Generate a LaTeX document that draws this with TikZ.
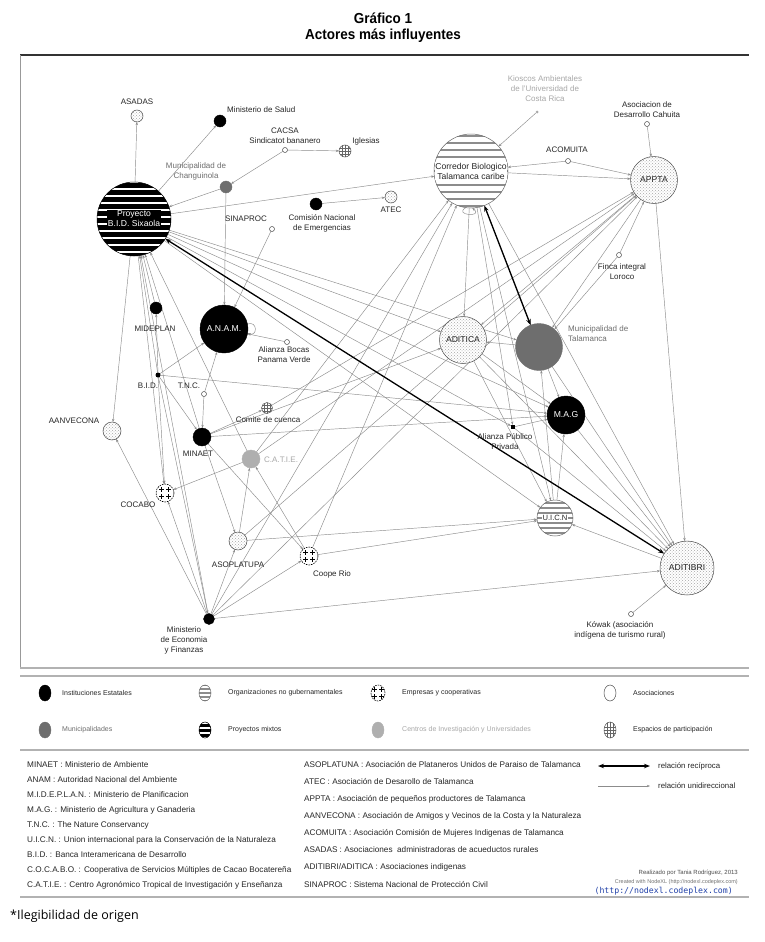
\documentclass[tikz,border=0pt]{standalone}
\usepackage{fontspec}
\setmainfont{Liberation Sans}
\newfontfamily\titlef[FakeStretch=0.93]{Liberation Sans}
\newfontfamily\notef{Open Sans}
\newfontfamily\urlf{DejaVu Sans Mono}
\usetikzlibrary{arrows.meta,patterns,shapes.geometric,backgrounds}
\pgfdeclarelayer{bottom}
\pgfsetlayers{bottom,background,main}
\definecolor{edgeC}{HTML}{8C8C8C}
\definecolor{muniC}{HTML}{6E6E6E}
\definecolor{catieC}{HTML}{AFAFAF}
\definecolor{lgtxt}{HTML}{A8A8A8}
\definecolor{urlC}{HTML}{2040A8}
\tikzset{
 nd/.style={circle,inner sep=0pt,outer sep=0pt,minimum size=#1},
 inst/.style={nd=#1,fill=black,draw=black,line width=0.4pt},
 muni/.style={nd=#1,fill=muniC,draw=muniC},
 centro/.style={nd=#1,fill=catieC,draw=catieC},
 asoc/.style={nd=#1,draw=black!70,line width=0.5pt,preaction={fill=white},pattern=crosshatch dots,pattern color=black!35},
 ong/.style 2 args={nd=#1,draw=black!60,fill=white,line width=0.5pt,
   path picture={\foreach \k in {0,...,20}{\draw[black!45,line width=1.1pt] ([yshift={(\k-10)*#2}]path picture bounding box.west) -- ([yshift={(\k-10)*#2}]path picture bounding box.east);}}},
 mix/.style 2 args={nd=#1,fill=black,draw=black,line width=0.5pt,
   path picture={\foreach \k in {0,...,20}{\draw[white,line width=2.2pt] ([yshift={(\k-10)*#2+2}]path picture bounding box.west) -- ([yshift={(\k-10)*#2+2}]path picture bounding box.east);}}},
 emp/.style={nd=#1,fill=white,draw=black,line width=0.6pt,dash pattern=on 1.6pt off 1pt,
   path picture={\foreach \a/\b in {-1/-1,-1/1,1/-1,1/1}{\draw[black,solid,line width=1.4pt] ([shift={(\a*3.4,\b*3.4)}]path picture bounding box.center) +(-2.2,0) -- +(2.2,0) +(0,-2.2) -- +(0,2.2);}}},
 esp/.style={nd=#1,fill=white,draw=black!70,line width=0.5pt,
   path picture={\foreach \k in {-1,0,1}{\draw[black!60,line width=0.4pt] ([xshift=\k*3pt]path picture bounding box.north) -- ([xshift=\k*3pt]path picture bounding box.south); \draw[black!60,line width=0.4pt] ([yshift=\k*3pt]path picture bounding box.west) -- ([yshift=\k*3pt]path picture bounding box.east);}}},
 tiny/.style={nd=#1,draw=black!70,fill=white,line width=0.5pt},
 dotb/.style={nd=#1,fill=black},
 lgsh/.style={ellipse,minimum width=12,minimum height=16},
 e/.style={draw=edgeC,line width=0.45pt,-{Stealth[length=3.2pt,width=2.4pt]}},
 rr/.style={draw=black,line width=1.3pt,{Stealth[length=6pt,width=4.5pt]}-{Stealth[length=6pt,width=4.5pt]}},
 lbl/.style={font=\fontsize{8}{10}\selectfont,inner sep=0pt,align=center,text=black!85},
 glbl/.style={lbl,text=muniC},
 llbl/.style={lbl,text=lgtxt},
 inl/.style={lbl,font=\fontsize{8.6}{10}\selectfont},
 lgt/.style={font=\fontsize{7}{8}\selectfont,inner sep=0pt,anchor=west,text=black!85},
 abr/.style={font=\fontsize{8.2}{10}\selectfont,inner sep=0pt,anchor=west,text=black!85},
 pnl/.style={draw=black!30,line width=1.3pt}
}
\begin{document}
\begin{tikzpicture}[x=1pt,y=-1pt]
\useasboundingbox (0,0) rectangle (765,942);
\begin{pgfonlayer}{bottom}
\fill[white] (0,0) rectangle (765,942);
\end{pgfonlayer}
% title
\node[font=\titlef\bfseries\fontsize{14.5}{16}\selectfont,inner sep=0pt] (t1) at (383,18) {Gráfico 1};
\node[font=\titlef\bfseries\fontsize{14.5}{16}\selectfont,inner sep=0pt] (t2) at (383,36) {Actores más influyentes};
% panels
\draw[black!80,line width=1.3pt] (20,55) -- (749,55);
\draw[black!40,line width=0.6pt] (20,55) -- (20,668);
\draw[pnl] (20,668) -- (749,668);
\draw[pnl] (20,676) -- (749,676);
\draw[pnl] (20,750) -- (749,750);
\draw[pnl] (20,897) -- (749,897);

% ---------------- nodes
\node[mix={74}{7}] (P) at (134,219) {};
\node[ong={74}{7}] (corredor) at (471,171) {};
\node[asoc=47] (appta) at (654,180) {};
\node[asoc=47] (aditica) at (463,340) {};
\node[muni=47] (munital) at (539,347) {};
\node[inst=38] (mag) at (566,415) {};
\node[ong={36}{5}] (uicn) at (555,518) {};
\node[asoc=54] (aditibri) at (687,568) {};
\node[inst=48] (anam) at (224,329) {};
\node[asoc=12] (asadas) at (137,116) {};
\node[inst=12] (minsalud) at (220,121) {};
\node[tiny=5] (cacsa) at (285,150) {};
\node[esp=12] (iglesias) at (345,151) {};
\node[muni=12] (munich) at (226,187) {};
\node[tiny=5] (sinaproc) at (272,229) {};
\node[inst=12] (cne) at (316,204) {};
\node[asoc=12] (atec) at (391,197) {};
\node[nd=3,fill=lgtxt] (kioscos) at (537,112) {};
\node[tiny=5] (acomuita) at (568,161) {};
\node[tiny=5] (cahuita) at (647,124) {};
\node[tiny=5] (finca) at (619,255) {};
\node[rectangle,inner sep=0pt,minimum size=4,fill=black] (alianza) at (513,427) {};
\node[tiny=5] (kowak) at (631,614) {};
\node[tiny=5] (bocas) at (287,342) {};
\node[inst=12] (mideplan) at (156,308) {};
\node[dotb=5] (bid) at (158,375) {};
\node[tiny=5] (tnc) at (204,394) {};
\node[esp=11] (comite) at (267,408) {};
\node[asoc=18] (aanvecona) at (112,431) {};
\node[inst=18] (minaet) at (202,437) {};
\node[centro=18] (catie) at (251,459) {};
\node[emp=18] (cocabo) at (165,493) {};
\node[asoc=18] (asoplatupa) at (238,541) {};
\node[emp=18] (cooperio) at (309,556) {};
\node[inst=11] (mineco) at (209,619) {};

% texts inside big nodes
\node[inl,text=white,fill=black,inner sep=0.8pt] (Pt) at (P) {Proyecto\\B.I.D. Sixaola};
\node[inl,fill=white,inner sep=0.6pt] (ct) at (corredor) {Corredor Biologico\\Talamanca caribe};
\node[inl] (apt) at (appta) {APPTA};
\node[inl] (adt) at (aditica) {ADITICA};
\node[inl] (abt) at (aditibri) {ADITIBRI};
\node[inl,text=white] (mgt) at (mag) {M.A.G};
\node[inl,text=white] (ant) at (anam) {A.N.A.M.};
\node[inl,fill=white,inner sep=0.6pt,font=\fontsize{7.6}{9}\selectfont] (uit) at (uicn) {U.I.C.N};

% outer labels
\node[lbl] (l1) at (137,102) {ASADAS};
\node[lbl,anchor=west] (l2) at (227,110) {Ministerio de Salud};
\node[lbl] (l3) at (285,135.5) {CACSA\\Sindicatot bananero};
\node[lbl] (l4) at (366,141) {Iglesias};
\node[glbl] (l5) at (196,171.5) {Municipalidad de\\Changuinola};
\node[lbl] (l6) at (246,219) {SINAPROC};
\node[lbl] (l7) at (322,223.5) {Comisión Nacional\\de Emergencias};
\node[lbl] (l8) at (391,210) {ATEC};
\node[llbl] (l9) at (545,89) {Kioscos Ambientales\\de l'Universidad de\\Costa Rica};
\node[lbl] (l10) at (567,150) {ACOMUITA};
\node[lbl] (l11) at (647,110) {Asociacion de\\Desarrollo Cahuita};
\node[lbl] (l12) at (622,272) {Finca integral\\Loroco};
\node[glbl,anchor=west,align=left] (l13) at (568,334) {Municipalidad de\\Talamanca};
\node[lbl] (l14) at (505,442) {Alianza Público\\Privada};
\node[lbl] (l15) at (620,630) {Kówak (asociación\\indígena de turismo rural)};
\node[lbl] (l16) at (284,355) {Alianza Bocas\\Panama Verde};
\node[lbl] (l17) at (155,329) {MIDEPLAN};
\node[lbl] (l18) at (148,386) {B.I.D.};
\node[lbl] (l19) at (189,386) {T.N.C.};
\node[lbl] (l20) at (268,420) {Comite de cuenca};
\node[lbl] (l21) at (74,421) {AANVECONA};
\node[lbl] (l22) at (198,454) {MINAET};
\node[llbl,anchor=west] (l23) at (264,460) {C.A.T.I.E.};
\node[lbl] (l24) at (138,505) {COCABO};
\node[lbl] (l25) at (238,565) {ASOPLATUPA};
\node[lbl] (l26) at (332,574) {Coope Rio};
\node[lbl] (l27) at (184,640.5) {Ministerio\\de Economia\\y Finanzas};

% ---------------- edges
\begin{pgfonlayer}{background}
\foreach \a/\b in {P/asadas,P/minsalud,munich/P,cacsa/munich,cacsa/iglesias,munich/anam,P/corredor,cne/atec,sinaproc/anam,kioscos/corredor,acomuita/corredor,acomuita/appta,corredor/appta,cahuita/appta,appta/aditica,appta/munital,finca/munital,finca/appta,appta/aditibri,munital/aditica,munital/aditibri,P/aditica,P/munital,P/mag,P/uicn,P/alianza,P/aanvecona,mideplan/P,bid/mideplan,bid/P,mineco/P,bid/anam,bid/minaet,bid/mag,tnc/anam,tnc/minaet,bocas/anam,minaet/comite,minaet/aditica,minaet/mag,minaet/asoplatupa,minaet/cooperio,catie/cocabo,asoplatupa/catie,cooperio/catie,catie/appta,catie/P,mineco/aanvecona,mineco/cocabo,mineco/asoplatupa,mineco/cooperio,mineco/aditibri,mineco/appta,cooperio/corredor,cooperio/uicn,asoplatupa/uicn,asoplatupa/appta,comite/appta,catie/corredor,mineco/corredor,corredor/uicn,corredor/alianza,corredor/aditibri,corredor/mag,corredor/aditica,aditica/uicn,aditica/mag,uicn/mag,uicn/munital,aditibri/uicn,mag/aditibri,alianza/mag,alianza/aditibri,kowak/aditibri,P/cocabo,bid/cocabo,bid/mineco,aditica/aditibri,minaet/P}
  {\draw[e] (\a) -- (\b);}
\draw[e] (corredor.-98) to[out=-150,in=-40,looseness=6] (corredor.-88);
\draw[e] (anam.12) to[out=20,in=-20,looseness=3] (anam.-10);
\draw[rr] (P) -- (aditibri);
\draw[rr] (corredor) -- (munital);
\end{pgfonlayer}

% ---------------- legend
\node[inst=1,lgsh] (g1) at (45,693) {};
\node[ong={1}{4},lgsh] (g2) at (205,693) {};
\node[emp=1,lgsh,minimum width=14] (g3) at (378,693) {};
\node[asoc=1,lgsh,pattern=none,fill=white] (g4) at (610,693) {};
\node[muni=1,lgsh] (g5) at (45,730) {};
\node[mix={1}{5},lgsh] (g6) at (205,730) {};
\node[centro=1,lgsh] (g7) at (378,730) {};
\node[esp=1,lgsh] (g8) at (610,730) {};
\node[lgt] (gt1) at (62,693) {Instituciones Estatales};
\node[lgt] (gt2) at (228,693) {Organizaciones no gubernamentales};
\node[lgt] (gt3) at (402,693) {Empresas y cooperativas};
\node[lgt] (gt4) at (633,693) {Asociaciones};
\node[lgt,text=muniC] (gt5) at (62,730) {Municipalidades};
\node[lgt] (gt6) at (228,730) {Proyectos mixtos};
\node[lgt,text=lgtxt] (gt7) at (402,730) {Centros de Investigación y Universidades};
\node[lgt] (gt8) at (633,730) {Espacios de participación};

% abbreviations
\node[abr] (a1) at (27,765) {MINAET : Ministerio de Ambiente};
\node[abr] (a2) at (27,780) {ANAM : Autoridad Nacional del Ambiente};
\node[abr] (a3) at (27,795) {M.I.D.E.P.L.A.N. : Ministerio de Planificacion};
\node[abr] (a4) at (27,810) {M.A.G. : Ministerio de Agricultura y Ganaderia};
\node[abr] (a5) at (27,825) {T.N.C. : The Nature Conservancy};
\node[abr] (a6) at (27,840) {U.I.C.N. : Union internacional para la Conservación de la Naturaleza};
\node[abr] (a7) at (27,855) {B.I.D. : Banca Interamericana de Desarrollo};
\node[abr] (a8) at (27,870) {C.O.C.A.B.O. : Cooperativa de Servicios Múltiples de Cacao Bocatereña};
\node[abr] (a9) at (27,885) {C.A.T.I.E. : Centro Agronómico Tropical de Investigación y Enseñanza};
\node[abr] (b1) at (304,765) {ASOPLATUNA : Asociación de Plataneros Unidos de Paraiso de Talamanca};
\node[abr] (b2) at (304,782) {ATEC : Asociación de Desarollo de Talamanca};
\node[abr] (b3) at (304,799) {APPTA : Asociación de pequeños productores de Talamanca};
\node[abr] (b4) at (304,816) {AANVECONA : Asociación de Amigos y Vecinos de la Costa y la Naturaleza};
\node[abr] (b5) at (304,833) {ACOMUITA : Asociación Comisión de Mujeres Indigenas de Talamanca};
\node[abr] (b6) at (304,850) {ASADAS : Asociaciones\ \ administradoras de acueductos rurales};
\node[abr] (b7) at (304,867) {ADITIBRI/ADITICA : Asociaciones indigenas};
\node[abr] (b8) at (304,885) {SINAPROC : Sistema Nacional de Protección Civil};
% arrow legend
\coordinate (r1a) at (598,766); \coordinate (r1b) at (650,766);
\coordinate (r2a) at (598,786); \coordinate (r2b) at (650,786);
\draw[rr,line width=1.1pt] (r1a) -- (r1b);
\draw[e] (r2a) -- (r2b);
\node[abr,font=\fontsize{7.8}{9}\selectfont] (rt1) at (658,766) {relación recíproca};
\node[abr,font=\fontsize{7.8}{9}\selectfont] (rt2) at (658,786) {relación unidireccional};
\node[font=\fontsize{6}{7}\selectfont,inner sep=0pt,anchor=east,text=black!70] (cr1) at (738,873) {Realizado por Tania Rodríguez, 2013};
\node[font=\fontsize{5.5}{6}\selectfont,inner sep=0pt,anchor=east,text=black!55] (cr2) at (738,882) {Created with NodeXL (http://nodexl.codeplex.com)};
\node[font=\urlf\fontsize{8.2}{10}\selectfont,inner sep=0pt,anchor=east,text=urlC] (url) at (733,891) {(http://nodexl.codeplex.com)};
% note
\node[font=\notef\fontsize{12.5}{14}\selectfont,inner sep=0pt,anchor=west] (note) at (10,916) {*Ilegibilidad de origen};
\end{tikzpicture}
\end{document}
